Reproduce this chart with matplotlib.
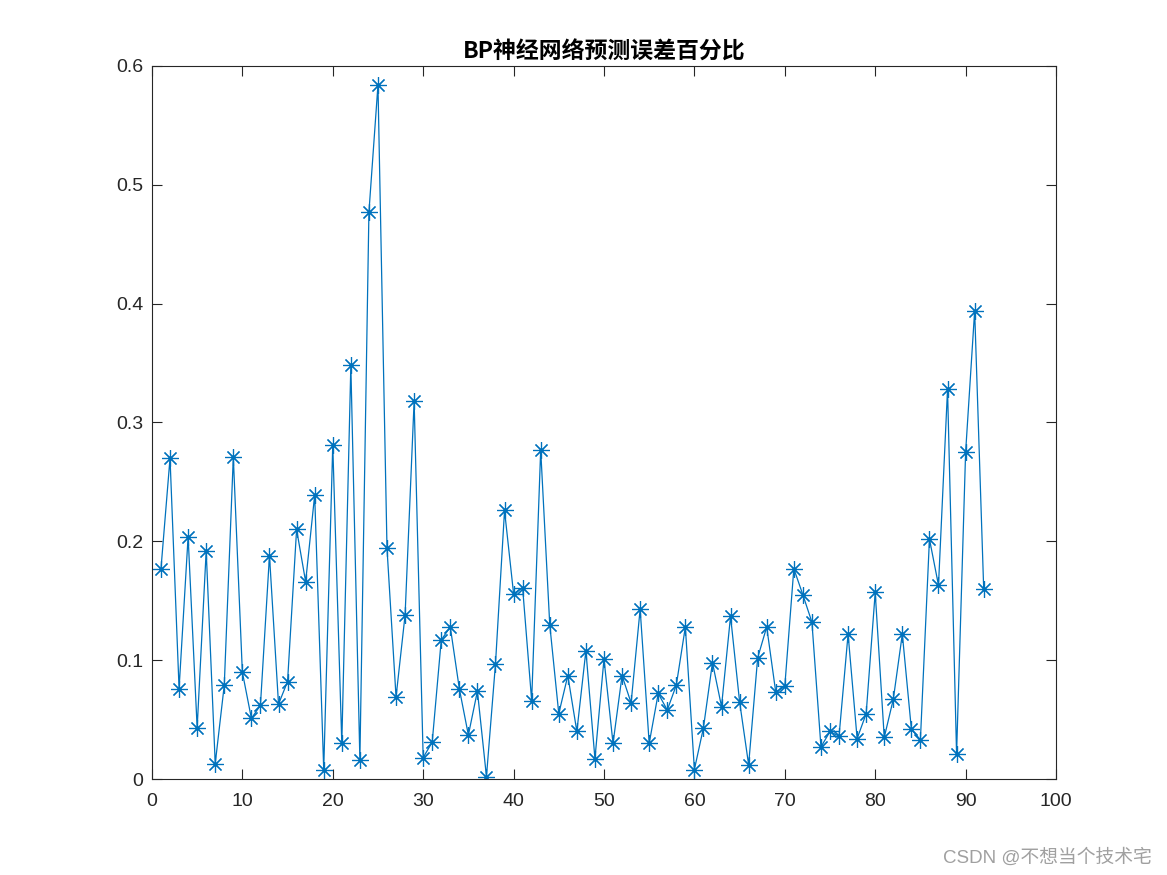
import matplotlib
matplotlib.use("Agg")
import matplotlib.pyplot as plt
import numpy as np

plt.rcParams['font.family'] = ['Liberation Sans', 'Noto Sans CJK SC', 'DejaVu Sans']

# error percentage per sample
err = [0.177, 0.270, 0.076, 0.204, 0.043, 0.192, 0.013, 0.079, 0.271, 0.090,
       0.051, 0.062, 0.188, 0.063, 0.082, 0.210, 0.166, 0.239, 0.008, 0.281,
       0.030, 0.348, 0.016, 0.477, 0.584, 0.194, 0.069, 0.138, 0.318, 0.018,
       0.031, 0.117, 0.128, 0.076, 0.037, 0.074, 0.002, 0.097, 0.226, 0.156,
       0.161, 0.066, 0.277, 0.130, 0.055, 0.087, 0.040, 0.108, 0.017, 0.101,
       0.030, 0.087, 0.064, 0.143, 0.030, 0.072, 0.058, 0.079, 0.128, 0.008,
       0.043, 0.098, 0.061, 0.137, 0.065, 0.012, 0.102, 0.128, 0.073, 0.078,
       0.177, 0.155, 0.132, 0.027, 0.040, 0.036, 0.122, 0.034, 0.055, 0.157,
       0.035, 0.067, 0.122, 0.042, 0.033, 0.202, 0.163, 0.328, 0.021, 0.275,
       0.394, 0.160]
idx = np.arange(1, len(err) + 1)

xticks = [0, 10, 20, 30, 40, 50, 60, 70, 80, 90, 100]
yticks = [0, 0.1, 0.2, 0.3, 0.4, 0.5, 0.6]

fig = plt.figure(figsize=(11.67, 8.75), dpi=100)
ax = fig.add_axes([0.1302, 0.1097, 0.7747, 0.8149])

# MATLAB style asterisk: 8 spokes, line marker
ax.plot(idx, err, '-', color='#0072BD', linewidth=0.9,
        marker=(8, 2, 0), markersize=12, markeredgewidth=0.85,
        markeredgecolor='#0072BD')

ax.set_xlim(0, 100)
ax.set_ylim(0, 0.6)
ax.set_xticks(xticks)
ax.set_yticks(yticks)
ax.set_yticklabels(['0', '0.1', '0.2', '0.3', '0.4', '0.5', '0.6'])
ax.tick_params(direction='in', top=True, right=True, labelsize=14,
               length=7, width=0.8, colors='#262626', pad=6)
ax.tick_params(axis='x', pad=10)
for s in ax.spines.values():
    s.set_color('#262626')
    s.set_linewidth(0.8)

ax.set_title('BP神经网络预测误差百分比', fontsize=16.5, fontweight='bold',
             family=['Noto Sans CJK SC', 'DejaVu Sans'], pad=5)

fig.text(0.987, 0.009, 'CSDN @不想当个技术宅', ha='right', va='bottom',
         fontsize=13.5, color='#a0a0a0',
         family=['Liberation Sans', 'Noto Sans CJK SC'])

fig.savefig('out.png', dpi=100)
